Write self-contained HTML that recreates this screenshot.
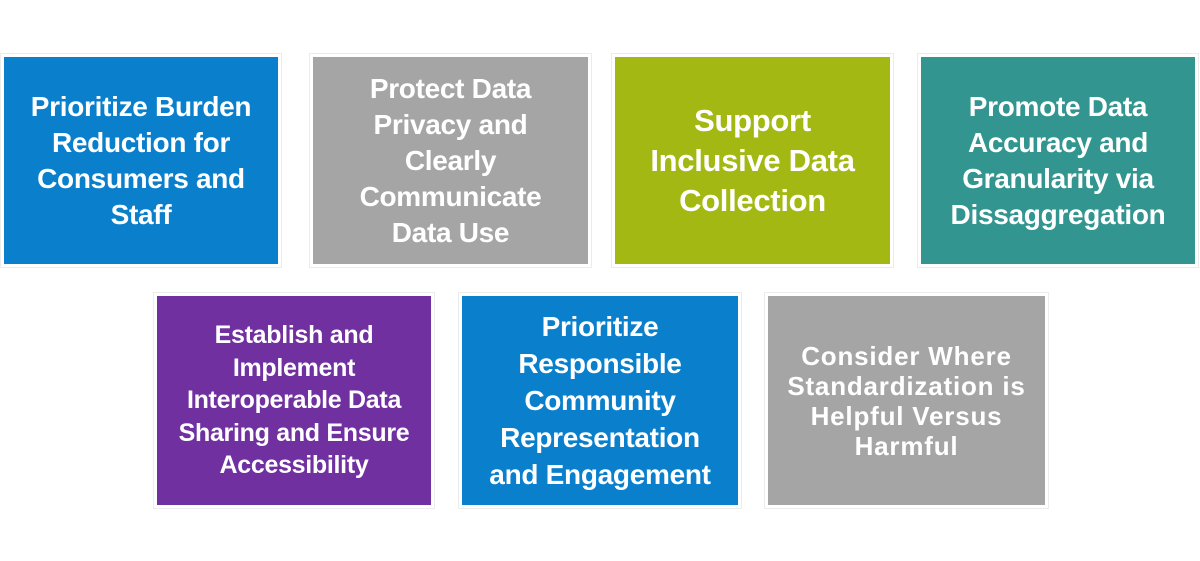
<!DOCTYPE html>
<html><head><style>
body{margin:0;width:1200px;height:561px;background:#fff;position:relative;overflow:hidden;font-family:"Liberation Sans",sans-serif;}
.b{position:absolute;display:flex;align-items:center;justify-content:center;text-align:center;color:#fff;font-weight:bold;box-shadow:0 0 0 3px #fff,0 0 0 4px #ececec;letter-spacing:-0.3px;white-space:nowrap}
</style></head><body>
<div class="b" style="left:4px;top:57px;width:274px;height:207px;background:#0a7fcc;font-size:28px;line-height:36px">Prioritize Burden<br>Reduction for<br>Consumers and<br>Staff</div>
<div class="b" style="left:313px;top:57px;width:275px;height:207px;background:#a5a5a5;font-size:28px;line-height:36px">Protect Data<br>Privacy and<br>Clearly<br>Communicate<br>Data Use</div>
<div class="b" style="left:615px;top:57px;width:275px;height:207px;background:#a3b812;font-size:31px;line-height:40px">Support<br>Inclusive Data<br>Collection</div>
<div class="b" style="left:921px;top:57px;width:274px;height:207px;background:#33958f;font-size:28px;line-height:36px">Promote Data<br>Accuracy and<br>Granularity via<br>Dissaggregation</div>
<div class="b" style="left:157px;top:296px;width:274px;height:209px;background:#7030a0;font-size:25px;line-height:32.5px">Establish and<br>Implement<br>Interoperable Data<br>Sharing and Ensure<br>Accessibility</div>
<div class="b" style="left:462px;top:296px;width:276px;height:209px;background:#0a7fcc;font-size:28px;line-height:37px">Prioritize<br>Responsible<br>Community<br>Representation<br>and Engagement</div>
<div class="b" style="left:768px;top:296px;width:277px;height:209px;background:#a5a5a5;font-size:26px;line-height:30px;letter-spacing:0.8px">Consider Where<br>Standardization is<br>Helpful Versus<br>Harmful</div>
</body></html>
